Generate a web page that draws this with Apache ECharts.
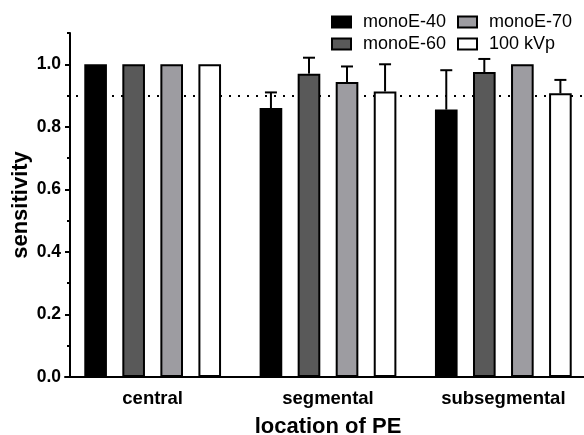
<!DOCTYPE html>
<html>
<head>
<meta charset="utf-8">
<script src="https://cdn.jsdelivr.net/npm/echarts@6/dist/echarts.min.js"></script>
<style>
html,body{margin:0;padding:0;background:#fff;}
#chart{width:584px;height:435px;}
</style>
</head>
<body>
<div id="chart"></div>
<script>
// ---- data ----
const categories = ['central', 'segmental', 'subsegmental'];
const seriesNames = ['monoE-40', 'monoE-60', 'monoE-70', '100 kVp'];
const monoE40 = [1.0, 0.86, 0.855];
const monoE60 = [1.0, 0.97, 0.975];
const monoE70 = [1.0, 0.943, 1.0];
const kVp100 = [1.0, 0.913, 0.907];
const err40 = [0, 0.05, 0.126];
const err60 = [0, 0.051, 0.042];
const err70 = [0, 0.05, 0];
const errKvp = [0, 0.087, 0.043];
const yTicks = [0, 0.2, 0.4, 0.6, 0.8, 1.0];
const thresholdValue = 0.9;

// ---- style ----
const FONT = "'Liberation Sans', Arial, Helvetica, sans-serif";
const fills = ['#000000', '#595959', '#9d9ca1', '#ffffff'];
const CAT_GAP = 0.22;
const BAR_GAP = 0.68;
const values = [monoE40, monoE60, monoE70, kVp100];
const errors = [err40, err60, err70, errKvp];

const barSeries = seriesNames.map((name, i) => ({
  name: name,
  type: 'bar',
  data: values[i],
  barCategoryGap: (CAT_GAP * 100) + '%',
  barGap: (BAR_GAP * 100) + '%',
  itemStyle: { color: fills[i], borderColor: '#000', borderWidth: 2 },
  emphasis: { disabled: true },
  z: 2
}));

barSeries[0].markLine = {
  silent: true,
  symbol: ['none', 'none'],
  label: { show: false },
  lineStyle: { color: '#000', type: [2, 7], width: 2, dashOffset: 7 },
  data: [{ yAxis: thresholdValue }],
  z: 1
};

const errData = [];
errors.forEach((arr, s) => {
  arr.forEach((e, c) => {
    if (e > 0) errData.push([c, values[s][c], e, s]);
  });
});

const errorSeries = {
  type: 'custom',
  data: errData,
  z: 3,
  silent: true,
  renderItem: function (params, api) {
    const c = api.value(0), v = api.value(1), e = api.value(2), s = api.value(3);
    const band = api.size([1, 0])[0];
    const n = seriesNames.length;
    const bw = band * (1 - CAT_GAP) / (n + (n - 1) * BAR_GAP);
    const off = (s - (n - 1) / 2) * bw * (1 + BAR_GAP);
    const p0 = api.coord([c, v]);
    const p1 = api.coord([c, v + e]);
    const x = p0[0] + off;
    const cap = 6;
    return {
      type: 'group',
      children: [
        { type: 'line', shape: { x1: x, y1: p0[1], x2: x, y2: p1[1] }, style: { stroke: '#000', lineWidth: 2 } },
        { type: 'line', shape: { x1: x - cap, y1: p1[1], x2: x + cap, y2: p1[1] }, style: { stroke: '#000', lineWidth: 2 } }
      ]
    };
  }
};

const legendCommon = {
  orient: 'vertical',
  padding: 0,
  itemWidth: 19,
  itemHeight: 11,
  itemGap: 4,
  icon: 'rect',
  selectedMode: false,
  itemStyle: { borderColor: '#000', borderWidth: 2 },
  textStyle: { fontFamily: FONT, fontSize: 18, color: '#000', lineHeight: 17, padding: [0, 0, 0, 7] }
};

const chart = echarts.init(document.getElementById('chart'), null, { renderer: 'canvas' });
chart.setOption({
  animation: false,
  backgroundColor: '#fff',
  legend: [
    Object.assign({}, legendCommon, { left: 331, top: 13, data: [seriesNames[0], seriesNames[1]] }),
    Object.assign({}, legendCommon, { left: 457, top: 13, data: [seriesNames[2], seriesNames[3]] })
  ],
  grid: { left: 65, top: 33, width: 526, bottom: 58, containLabel: false, outerBoundsMode: 'none' },
  xAxis: {
    type: 'category',
    data: categories,
    axisLine: { lineStyle: { color: '#000', width: 2 } },
    axisTick: { alignWithLabel: true, length: 6, lineStyle: { color: '#000', width: 2 } },
    axisLabel: { fontFamily: FONT, fontSize: 18.5, fontWeight: 'bold', color: '#000', margin: 12 },
    name: 'location of PE',
    nameLocation: 'middle',
    nameGap: 39,
    nameMoveOverlap: false,
    nameTextStyle: { fontFamily: FONT, fontSize: 22, fontWeight: 'bold', color: '#000' }
  },
  yAxis: [
    {
      type: 'value',
      position: 'left',
      offset: -5,
      min: 0,
      max: 1.1,
      interval: 0.2,
      axisLine: { show: true, lineStyle: { color: '#000', width: 2 } },
      axisTick: { show: true, length: 5, customValues: yTicks, lineStyle: { color: '#000', width: 2 } },
      axisLabel: { customValues: yTicks, formatter: v => v.toFixed(1), fontFamily: FONT, fontSize: 17.5, fontWeight: 'bold', color: '#000', margin: 9 },
      splitLine: { show: false },
      name: 'sensitivity',
      nameLocation: 'middle',
      nameGap: 38,
      nameMoveOverlap: false,
      nameTextStyle: { fontFamily: FONT, fontSize: 22, fontWeight: 'bold', color: '#000' }
    },
    {
      type: 'value',
      position: 'left',
      offset: -5,
      min: 0,
      max: 1.1,
      interval: 0.1,
      axisLine: { show: false },
      axisTick: { show: true, length: 3, lineStyle: { color: '#000', width: 2 } },
      axisLabel: { show: false },
      splitLine: { show: false }
    }
  ],
  series: barSeries.concat([errorSeries])
});
</script>
</body>
</html>
